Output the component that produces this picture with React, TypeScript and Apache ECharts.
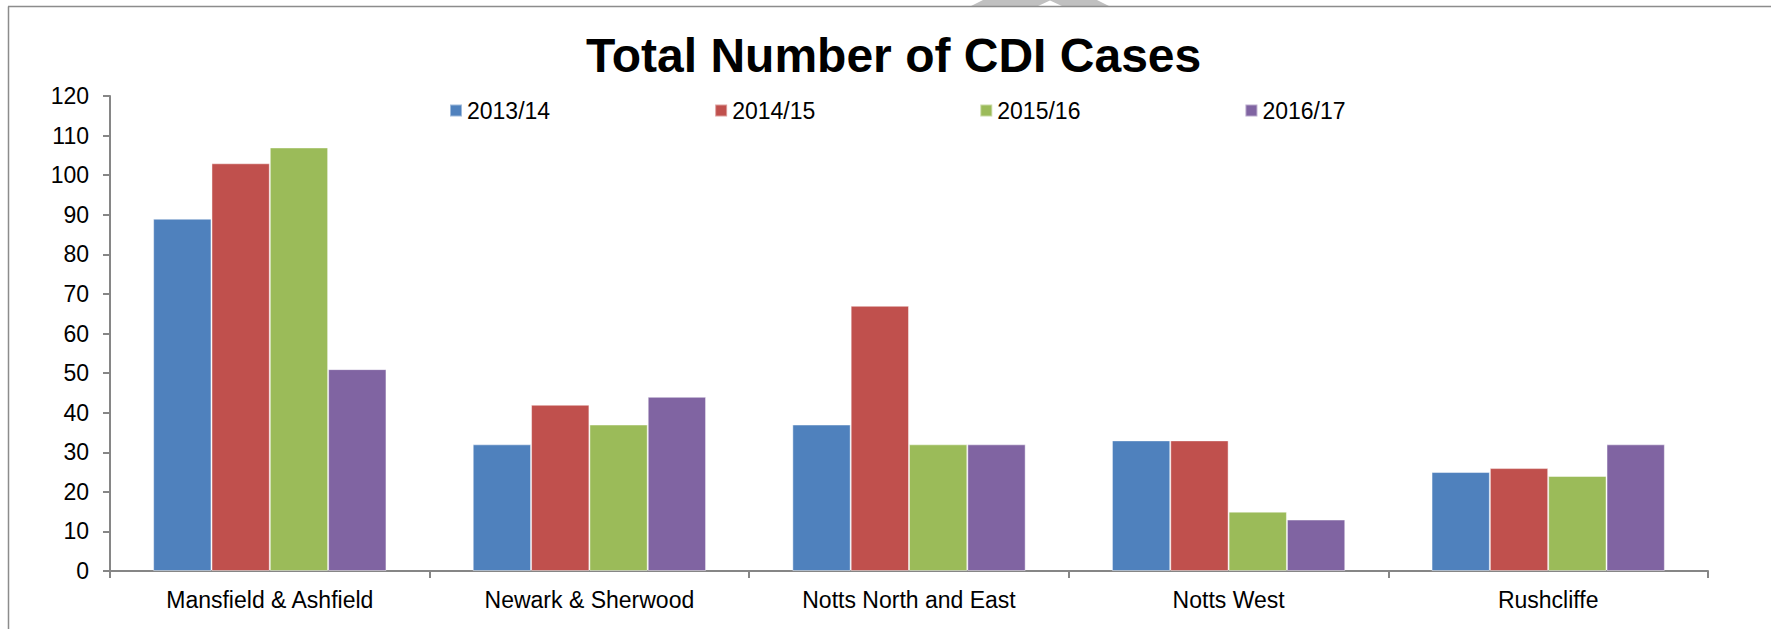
import React, { useEffect, useRef } from "react";
import * as echarts from "echarts";

const categories = [
  "Mansfield & Ashfield",
  "Newark & Sherwood",
  "Notts North and East",
  "Notts West",
  "Rushcliffe",
];
const seriesNames = ["2013/14", "2014/15", "2015/16", "2016/17"];
const values2013 = [89, 32, 37, 33, 25];
const values2014 = [103, 42, 67, 33, 26];
const values2015 = [107, 37, 32, 15, 24];
const values2016 = [51, 44, 32, 13, 32];
const colors = ["#4F81BD", "#C0504D", "#9BBB59", "#8064A2"];
const yTicks = { min: 0, max: 120, interval: 10 };

export default function App() {
  const ref = useRef<HTMLDivElement>(null);
  useEffect(() => {
    if (!ref.current) return;
    const chart = echarts.init(ref.current, undefined, { renderer: "svg" });
    const allValues = [values2013, values2014, values2015, values2016];
    const font = "Liberation Sans, Arial, sans-serif";
    chart.setOption({
      animation: false,
      backgroundColor: "#ffffff",
      title: {
        text: "Total Number of CDI Cases",
        left: 586,
        top: 31,
        padding: 0,
        textStyle: {
          fontFamily: font,
          fontSize: 48,
          fontWeight: "bold",
          color: "#000000",
        },
      },
      legend: {
        left: 449,
        top: 99,
        padding: 0,
        itemWidth: 12,
        itemHeight: 12,
        itemGap: 164,
        icon: "rect",
        data: seriesNames,
        textStyle: {
          fontFamily: font,
          fontSize: 23,
          color: "#000000",
          padding: [0, 0, 0, 0],
        },
      },
      grid: {
        left: 110,
        right: 63,
        top: 96,
        bottom: 58,
        containLabel: false,
      },
      xAxis: {
        type: "category",
        data: categories,
        boundaryGap: true,
        axisLine: { lineStyle: { color: "#868686", width: 2 } },
        axisTick: { show: true, length: 7, interval: 0, lineStyle: { color: "#868686", width: 2 } },
        axisLabel: {
          interval: 0,
          margin: 17,
          fontFamily: font,
          fontSize: 23,
          color: "#000000",
        },
        splitLine: { show: false },
      },
      yAxis: {
        type: "value",
        min: yTicks.min,
        max: yTicks.max,
        interval: yTicks.interval,
        axisLine: { show: true, lineStyle: { color: "#868686", width: 2 } },
        axisTick: { show: true, length: 7, lineStyle: { color: "#868686", width: 2 } },
        axisLabel: {
          margin: 21,
          fontFamily: font,
          fontSize: 23,
          color: "#000000",
        },
        splitLine: { show: false },
      },
      series: seriesNames.map((name, i) => ({
        name,
        type: "bar",
        data: allValues[i],
        barGap: "0%",
        barCategoryGap: "27%",
        itemStyle: {
          color: colors[i],
          borderColor: "rgba(255,255,255,0.45)",
          borderWidth: 1,
        },
      })),
      graphic: [
        {
          type: "polygon",
          silent: true,
          z: 0,
          shape: {
            points: [
              [970, 6.5],
              [983, 0],
              [1097, 0],
              [1110, 6.5],
              [1063, 6.5],
              [1050, 0.5],
              [1037, 6.5],
            ],
          },
          style: { fill: "#c0c0c0" },
        },
        {
          type: "line",
          silent: true,
          shape: { x1: 8, y1: 6.5, x2: 1771, y2: 6.5 },
          style: { stroke: "#8c8c8c", lineWidth: 1.5 },
        },
        {
          type: "line",
          silent: true,
          shape: { x1: 8.5, y1: 6.5, x2: 8.5, y2: 629 },
          style: { stroke: "#8c8c8c", lineWidth: 1.5 },
        },
      ],
    });
    return () => chart.dispose();
  }, []);
  return (
    <div
      ref={ref}
      style={{ position: "absolute", left: 0, top: 0, width: 1771, height: 629 }}
    />
  );
}
